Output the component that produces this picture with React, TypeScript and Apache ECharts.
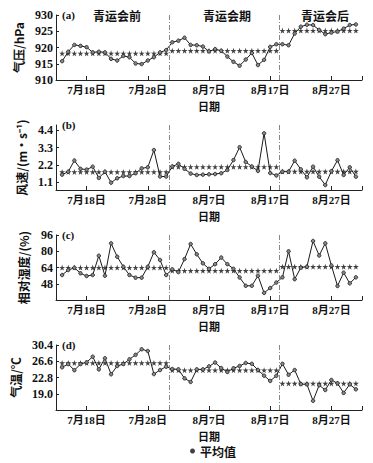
import React, { useEffect, useRef } from 'react';
import * as echarts from 'echarts';

// x positions: days counted from 7月13日 (axis origin); data runs 7月14日 .. 8月31日
const dayIndex: number[] = Array.from({ length: 49 }, (_, i) => i + 1);
const xTickDays = [5, 15, 25, 35, 45];
const xTickLabels = ['7月18日', '7月28日', '8月7日', '8月17日', '8月27日'];

const periodNames = ['青运会前', '青运会期', '青运会后'];
const periodStart = [1, 19, 37];
const periodEnd = [18, 36, 49];
const dividers = [18.5, 36.5];

const pressure = [
  915.8, 918.7, 920.8, 920.5, 920.1, 918.5, 918.7, 918.5, 916.5, 916.0, 917.4, 917.0, 915.1, 914.9, 916.0, 917.0, 918.5, 919.2,
  921.6, 922.1, 923.0, 920.8, 920.7, 920.3, 918.8, 919.5, 919.0, 917.2, 915.6, 914.4, 916.3, 918.3, 914.6, 916.2, 920.2, 921.0,
  921.0, 920.7, 924.3, 926.4, 927.0, 926.9, 925.4, 924.1, 924.6, 924.9, 925.8, 926.9, 927.1,
];
const wind = [
  1.58, 1.77, 2.48, 1.95, 1.9, 2.09, 1.37, 1.77, 1.07, 1.35, 1.49, 1.49, 1.67, 1.98, 2.05, 3.15, 1.46, 1.46,
  2.1, 2.27, 1.95, 1.65, 1.56, 1.58, 1.6, 1.62, 1.67, 1.88, 2.51, 3.33, 2.39, 2.1, 1.82, 4.22, 1.68, 1.53,
  1.77, 1.77, 2.47, 1.92, 1.41, 2.09, 1.45, 0.92, 1.8, 2.5, 1.56, 2.05, 1.45,
];
const humidity = [
  56.6, 61.5, 63.8, 58.3, 55.6, 56.6, 75.6, 55.9, 87.8, 74.6, 64.8, 56.6, 54.0, 54.0, 64.8, 79.0, 71.4, 56.6,
  62.2, 59.5, 72.3, 87.1, 77.0, 68.1, 62.7, 67.3, 73.8, 67.3, 62.7, 54.2, 46.0, 46.0, 55.9, 39.0, 43.8, 49.2,
  54.3, 79.9, 52.5, 63.8, 64.8, 90.1, 75.8, 87.8, 66.0, 45.8, 58.9, 48.4, 54.3,
];
const temperature = [
  25.18, 25.95, 24.5, 25.95, 26.35, 27.67, 24.7, 27.3, 23.55, 25.49, 25.95, 27.05, 28.1, 29.4, 29.0, 23.6, 24.55, 25.33,
  24.79, 24.71, 22.6, 21.75, 24.7, 24.7, 25.4, 26.3, 25.0, 24.1, 24.95, 25.5, 26.2, 26.0, 24.55, 23.23, 22.0, 23.2,
  26.0, 23.45, 24.55, 21.25, 21.2, 17.35, 21.0, 19.88, 22.22, 21.44, 19.2, 21.2, 20.04,
];

const pressureMean = [918.2, 919.0, 925.2];
const windMean = [1.75, 2.08, 1.78];
const humidityMean = [63.9, 60.8, 64.8];
const temperatureMean = [26.2, 24.5, 21.4];

const pressureTicks = [910, 915, 920, 925, 930];
const windTicks = [1.1, 2.2, 3.3, 4.4];
const humidityTicks = [48, 64, 80, 96];
const temperatureTicks = [19.0, 22.8, 26.6, 30.4];

const panelLetters = ['(a)', '(b)', '(c)', '(d)'];

const SERIF = "'Liberation Serif', 'Noto Sans CJK SC', serif";
const CJK = "'Noto Sans CJK SC', 'Liberation Serif', sans-serif";
const STAR = 'path://M50,0 L61,35 L98,35 L68,57 L79,91 L50,70 L21,91 L32,57 L2,35 L39,35 Z';

export default function App() {
  const ref = useRef<HTMLDivElement>(null);

  useEffect(() => {
    if (!ref.current) return;
    const chart = echarts.init(ref.current, undefined, { renderer: 'svg' });

    const panels = [
      { values: pressure, means: pressureMean, ticks: pressureTicks, min: 910, max: 930, name: '气压/hPa', digits: 0 },
      { values: wind, means: windMean, ticks: windTicks, min: 0.6, max: 4.75, name: '风速/(m·s⁻¹)', digits: 1 },
      { values: humidity, means: humidityMean, ticks: humidityTicks, min: 32, max: 96, name: '相对湿度/(%)', digits: 0 },
      { values: temperature, means: temperatureMean, ticks: temperatureTicks, min: 15.2, max: 30.4, name: '气温/℃', digits: 1 },
    ];
    const tops = [15, 125, 235, 345];
    const gridH = 65;

    const grid = tops.map((t) => ({ left: 56, width: 306, top: t, height: gridH }));

    const xAxis = tops.map((_, i) => ({
      type: 'value',
      gridIndex: i,
      min: 0,
      max: 50,
      name: '日期',
      nameLocation: 'middle',
      nameGap: 20,
      nameTextStyle: { fontFamily: CJK, fontWeight: 'bold', fontSize: 11, color: '#111' },
      splitLine: { show: false },
      axisLine: { show: true, lineStyle: { color: '#222', width: 1 } },
      axisTick: { show: true, inside: true, length: 4, customValues: [...xTickDays, 50], lineStyle: { color: '#222' } },
      axisLabel: {
        customValues: xTickDays,
        margin: 4,
        fontFamily: SERIF,
        fontWeight: 'bold',
        fontSize: 11,
        color: '#111',
        formatter: (v: number) => {
          const k = xTickDays.indexOf(Math.round(v));
          return k >= 0 ? xTickLabels[k] : '';
        },
      },
    }));

    const yAxis = panels.map((p, i) => ({
      type: 'value',
      gridIndex: i,
      min: p.min,
      max: p.max,
      name: p.name,
      nameLocation: 'middle',
      nameGap: 27,
      nameRotate: 90,
      nameTextStyle: { fontFamily: CJK, fontWeight: 'bold', fontSize: 12, color: '#111' },
      splitLine: { show: false },
      axisLine: { show: true, lineStyle: { color: '#222', width: 1 } },
      axisTick: { show: true, inside: true, length: 3, customValues: p.ticks, lineStyle: { color: '#222' } },
      axisLabel: {
        customValues: p.ticks,
        margin: 3,
        fontFamily: SERIF,
        fontWeight: 'bold',
        fontSize: 12,
        color: '#111',
        formatter: (v: number) => v.toFixed(p.digits),
      },
    }));

    const series: any[] = [];
    panels.forEach((p, i) => {
      series.push({
        type: 'line',
        name: p.name,
        xAxisIndex: i,
        yAxisIndex: i,
        data: dayIndex.map((d, k) => [d, p.values[k]]),
        symbol: 'circle',
        symbolSize: 3.5,
        lineStyle: { color: '#1a1a1a', width: 1 },
        itemStyle: { color: '#888', borderColor: '#1a1a1a', borderWidth: 0.8 },
        z: 3,
        markLine: {
          silent: true,
          symbol: 'none',
          label: { show: false },
          lineStyle: { color: '#888', width: 1, type: [5, 2, 1, 2] },
          data: dividers.map((x) => ({ xAxis: x })),
        },
      });
      periodStart.forEach((s, k) => {
        const pts: number[][] = [];
        for (let d = s; d <= periodEnd[k]; d++) pts.push([d, p.means[k]]);
        series.push({
          type: 'scatter',
          name: '平均值',
          xAxisIndex: i,
          yAxisIndex: i,
          data: pts,
          symbol: STAR,
          symbolSize: 6,
          itemStyle: { color: '#111' },
          z: 2,
        });
      });
    });

    const graphic: any[] = [];
    tops.forEach((t, i) => {
      graphic.push({
        type: 'text',
        left: 62,
        top: t - 6,
        style: { text: panelLetters[i], fontFamily: SERIF, fontWeight: 'bold', fontSize: 11, fill: '#111' },
      });
    });
    const periodCenters = [117, 227, 325];
    periodNames.forEach((n, k) => {
      graphic.push({
        type: 'text',
        x: periodCenters[k],
        y: 15,
        style: {
          text: n,
          fontFamily: CJK,
          fontWeight: 'bold',
          fontSize: 12,
          fill: '#111',
          align: 'center',
          verticalAlign: 'middle',
        },
      });
    });

    chart.setOption({
      animation: false,
      backgroundColor: '#fff',
      grid,
      xAxis,
      yAxis,
      series,
      graphic,
      legend: {
        data: ['平均值'],
        left: 188,
        top: 443,
        padding: 2,
        icon: 'circle',
        itemWidth: 5,
        itemHeight: 5,
        itemGap: 4,
        textStyle: { fontFamily: CJK, fontWeight: 'bold', fontSize: 12, color: '#111' },
      },
    });

    return () => chart.dispose();
  }, []);

  return (
    <div
      ref={ref}
      style={{ position: 'absolute', left: 0, top: 0, width: 373, height: 463, background: '#fff' }}
    />
  );
}
